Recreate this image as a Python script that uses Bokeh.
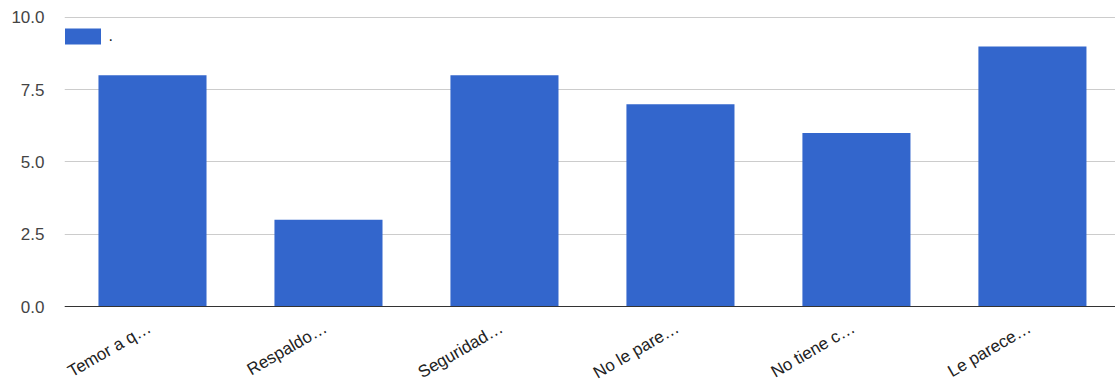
import math
from bokeh.plotting import figure
from bokeh.core.properties import value
from bokeh.models import (ColumnDataSource, Range1d, FixedTicker, NumeralTickFormatter,
                          LabelSet, Span)
from bokeh.embed import file_html
from bokeh.resources import INLINE

# Survey answers (truncated labels) and their counts
categories = ["Temor a q…", "Respaldo…", "Seguridad…", "No le pare…", "No tiene c…", "Le parece…"]
counts = [8, 3, 8, 7, 6, 9]
y_ticks = [0, 2.5, 5, 7.5, 10]
series_name = "."

xs = list(range(len(categories)))
source = ColumnDataSource(data=dict(x=xs, base=[0] * len(xs), count=counts, label=categories))

FONT = "Liberation Sans"

# The frame runs down to the bottom edge so the tilted category names
# sit inside it, below the zero baseline.
p = figure(
    width=1115, height=381,
    output_backend="svg", toolbar_location=None,
    x_axis_location=None,
    x_range=Range1d(-0.5, 5.472),
    y_range=Range1d(-2.595, 10.242),
    min_border_left=64, min_border_right=0,
    min_border_top=10, min_border_bottom=0,
)
p.outline_line_color = None
p.background_fill_color = "white"
p.border_fill_color = "white"

p.vbar(x="x", bottom="base", top="count", width=0.614, source=source,
       fill_color="#3366cc", line_color=None, legend_label=series_name)

# zero baseline
p.add_layout(Span(location=0, dimension="width", line_color="#333333", line_width=1))

# category names, tilted, hanging from the baseline under each bar
p.add_layout(LabelSet(
    x="x", y="base", text="label", source=source,
    angle=math.radians(30), text_align="right", text_baseline="middle",
    x_offset=-3, y_offset=-20,
    text_font=value(FONT), text_font_size=value("17px"), text_color="#222222",
))

# y axis: numeric ticks, no axis line
p.yaxis.ticker = FixedTicker(ticks=y_ticks)
p.yaxis.formatter = NumeralTickFormatter(format="0.0")
p.yaxis.axis_line_color = None
p.yaxis.major_tick_line_color = None
p.yaxis.minor_tick_line_color = None
p.yaxis.major_label_text_font = FONT
p.yaxis.major_label_text_font_size = "17px"
p.yaxis.major_label_text_color = "#444444"
p.yaxis.major_label_standoff = 14

p.xgrid.grid_line_color = None
p.ygrid.grid_line_color = "#cccccc"
p.ygrid.grid_line_width = 1

# legend swatch is inset 10% on each side of the glyph box
leg = p.legend[0]
leg.location = (-4.5, 335)
leg.margin = 0
leg.padding = 0
leg.border_line_color = None
leg.background_fill_alpha = 0
leg.glyph_width = 45
leg.glyph_height = 20
leg.label_height = 20
leg.label_standoff = 4
leg.label_text_font = FONT
leg.label_text_font_size = "16px"
leg.label_text_color = "#222222"

open("out.html", "w").write(file_html(p, INLINE))
